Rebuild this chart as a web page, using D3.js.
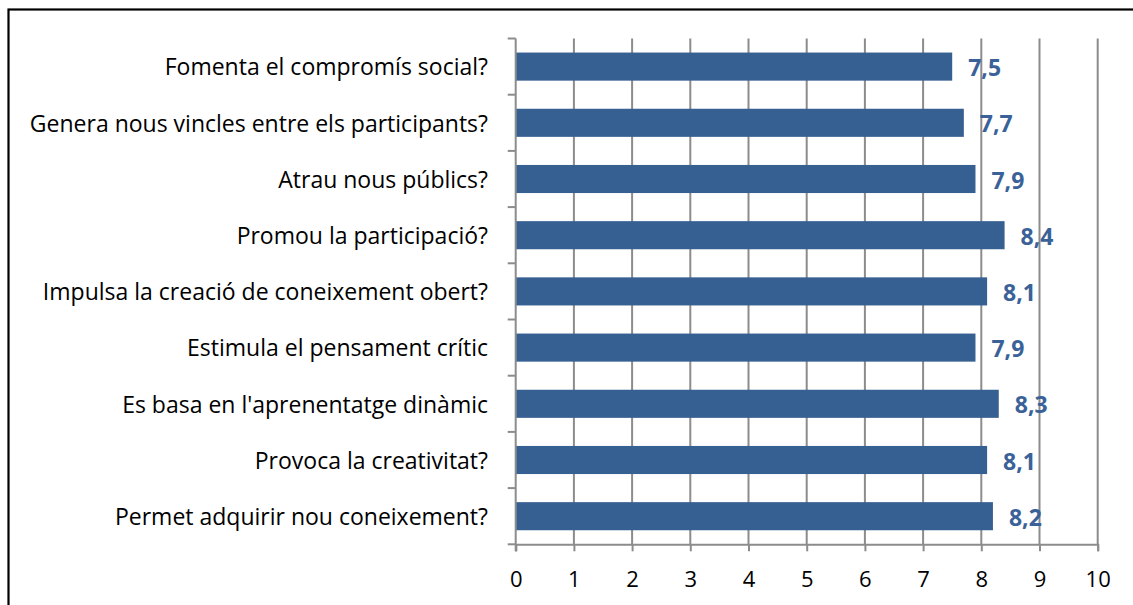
<!DOCTYPE html>
<html><head><meta charset="utf-8">
<script src="https://cdn.jsdelivr.net/npm/d3@7"></script>
<style>html,body{margin:0;padding:0;background:#fff;}svg{display:block;}</style>
</head><body>
<svg id="c" width="1133" height="605"></svg>
<script>
const categories = [
  "Fomenta el compromís social?",
  "Genera nous vincles entre els participants?",
  "Atrau nous públics?",
  "Promou la participació?",
  "Impulsa la creació de coneixement obert?",
  "Estimula el pensament crític",
  "Es basa en l'aprenentatge dinàmic",
  "Provoca la creativitat?",
  "Permet adquirir nou coneixement?"
];
const values = [7.5, 7.7, 7.9, 8.4, 8.1, 7.9, 8.3, 8.1, 8.2];
const xTicks = [0,1,2,3,4,5,6,7,8,9,10];

(function(){
const svg = d3.select("#c");
const font = "'Open Sans', 'Noto Sans', sans-serif";
const gridColor = "#8c8c8c";
const barColor = "#376092";
const labelColor = "#3a6298";

// outer border
svg.append("rect").attr("x",8.5).attr("y",9.5).attr("width",1140).attr("height",620)
  .attr("fill","none").attr("stroke","#000").attr("stroke-width",2.2);

const pLeft = 515.7, pRight = 1097.7, pTop = 38.5, pBottom = 544.3;
const x = d3.scaleLinear().domain([0,10]).range([pLeft,pRight]);
const y = d3.scaleBand().domain(categories).range([pTop,pBottom]).paddingInner(0.5).paddingOuter(0.25);

// gridlines
svg.append("g").selectAll("line").data(xTicks.slice(1)).join("line")
  .attr("x1",d=>x(d)).attr("x2",d=>x(d)).attr("y1",pTop).attr("y2",pBottom)
  .attr("stroke",gridColor).attr("stroke-width",2);

// bars
svg.append("g").selectAll("rect").data(values).join("rect")
  .attr("x",x(0)).attr("y",(d,i)=>y(categories[i]))
  .attr("width",d=>x(d)-x(0)).attr("height",y.bandwidth())
  .attr("fill",barColor);

// x axis
const xAxis = svg.append("g").attr("transform",`translate(0,${pBottom})`)
  .call(d3.axisBottom(x).tickValues(xTicks).tickSize(7).tickPadding(20).tickFormat(d3.format("d")));
xAxis.select(".domain").attr("stroke",gridColor).attr("stroke-width",2);
xAxis.selectAll(".tick line").attr("stroke",gridColor).attr("stroke-width",2);
xAxis.selectAll(".tick text").attr("font-family",font).attr("font-size",22).attr("fill","#000");

// y axis (category boundaries)
const bounds = d3.range(categories.length+1).map(i => pTop + i*(pBottom-pTop)/categories.length);
svg.append("line").attr("x1",pLeft).attr("x2",pLeft).attr("y1",pTop).attr("y2",pBottom+7)
  .attr("stroke",gridColor).attr("stroke-width",2);
svg.append("g").selectAll("line").data(bounds).join("line")
  .attr("x1",pLeft-8).attr("x2",pLeft).attr("y1",d=>d).attr("y2",d=>d)
  .attr("stroke",gridColor).attr("stroke-width",2);

// category labels
svg.append("g").selectAll("text").data(categories).join("text")
  .attr("x",488).attr("y",d=>y(d)+y.bandwidth()/2).attr("dy","0.38em")
  .attr("text-anchor","end").attr("font-family",font).attr("font-size",23).attr("fill","#000")
  .text(d=>d);

// value labels
svg.append("g").selectAll("text").data(values).join("text")
  .attr("x",d=>x(d)+16).attr("y",(d,i)=>y(categories[i])+y.bandwidth()/2).attr("dy","0.42em")
  .attr("font-family",font).attr("font-size",23).attr("font-weight","bold").attr("fill",labelColor)
  .text(d=>d3.format(".1f")(d).replace(".",","));
})();
</script>
</body></html>
